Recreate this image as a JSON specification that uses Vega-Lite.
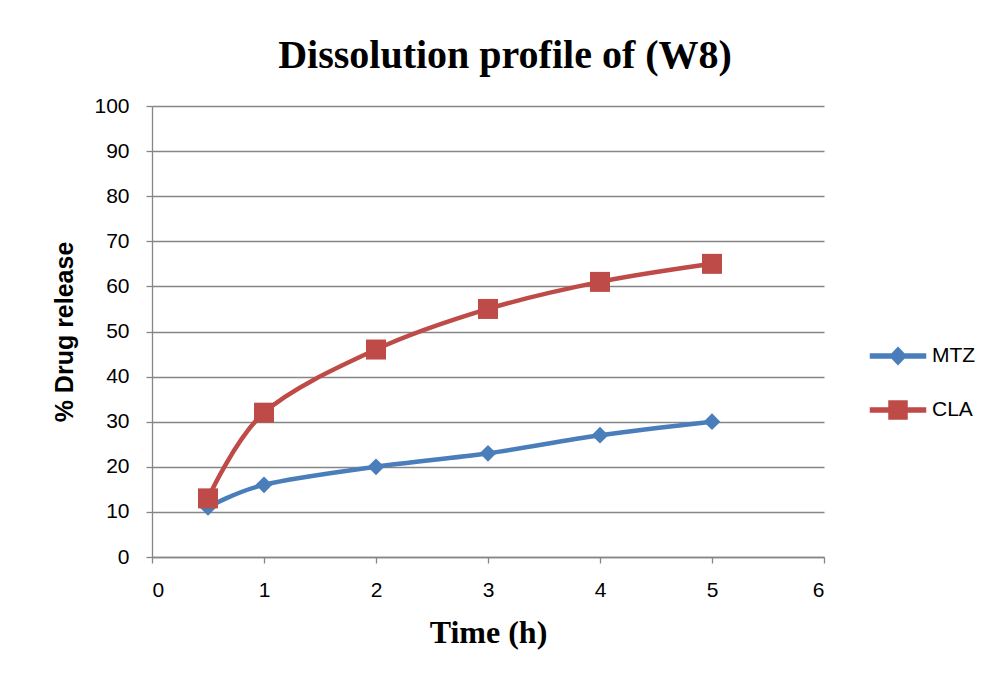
{
  "$schema": "https://vega.github.io/schema/vega-lite/v6.json",
  "width": 672,
  "height": 451,
  "autosize": {"type": "none"},
  "padding": {"left": 152, "top": 106, "right": 172, "bottom": 124},
  "background": "white",
  "title": {
    "text": "Dissolution profile of (W8)",
    "font": "Liberation Serif",
    "fontSize": 40,
    "fontWeight": "bold",
    "color": "black",
    "anchor": "middle",
    "frame": "group",
    "dx": 17,
    "offset": 19
  },
  "data": {
    "values": [
      {"time": 0.5, "release": 11, "drug": "MTZ"},
      {"time": 1, "release": 16, "drug": "MTZ"},
      {"time": 2, "release": 20, "drug": "MTZ"},
      {"time": 3, "release": 23, "drug": "MTZ"},
      {"time": 4, "release": 27, "drug": "MTZ"},
      {"time": 5, "release": 30, "drug": "MTZ"},
      {"time": 0.5, "release": 13, "drug": "CLA"},
      {"time": 1, "release": 32, "drug": "CLA"},
      {"time": 2, "release": 46, "drug": "CLA"},
      {"time": 3, "release": 55, "drug": "CLA"},
      {"time": 4, "release": 61, "drug": "CLA"},
      {"time": 5, "release": 65, "drug": "CLA"}
    ]
  },
  "config": {
    "view": {"stroke": null},
    "axis": {
      "labelFont": "Liberation Sans",
      "labelFontSize": 21,
      "labelColor": "black",
      "titleColor": "black",
      "titleFontWeight": "bold",
      "domainColor": "#868686",
      "tickColor": "#868686",
      "gridColor": "#868686",
      "gridOpacity": 1,
      "tickSize": 6,
      "domainWidth": 1.3,
      "tickWidth": 1.3,
      "gridWidth": 1.3
    }
  },
  "encoding": {
    "x": {
      "field": "time",
      "type": "quantitative",
      "scale": {"domain": [0, 6], "nice": false},
      "axis": {
        "values": [0, 1, 2, 3, 4, 5, 6],
        "grid": false,
        "title": "Time (h)",
        "titleFont": "Liberation Serif",
        "titleFontSize": 32,
        "titlePadding": 17,
        "labelPadding": 16
      }
    },
    "y": {
      "field": "release",
      "type": "quantitative",
      "scale": {"domain": [0, 100], "nice": false},
      "axis": {
        "values": [0, 10, 20, 30, 40, 50, 60, 70, 80, 90, 100],
        "grid": true,
        "title": "% Drug release",
        "titleFont": "Liberation Sans",
        "titleFontSize": 25,
        "titlePadding": 16,
        "labelPadding": 17
      }
    }
  },
  "layer": [
    {
      "mark": {"type": "line", "interpolate": "cardinal", "strokeWidth": 4.5, "strokeCap": "round"},
      "encoding": {
        "color": {
          "field": "drug",
          "type": "nominal",
          "scale": {"domain": ["MTZ", "CLA"], "range": ["#4A7EBB", "#BE4B48"]},
          "legend": {
            "title": null,
            "orient": "none",
            "legendX": 735,
            "legendY": 239,
            "symbolSize": 400,
            "labelOffset": 23,
            "rowPadding": 30,
            "labelFont": "Liberation Sans",
            "labelFontSize": 21,
            "labelColor": "black",
            "encode": {
              "symbols": {
                "update": {
                  "shape": {"signal": "datum.value === 'MTZ' ? 'M-2.75,-0.2H2.75V0.2H-2.75ZM0,-0.85L0.8,0L0,0.85L-0.8,0Z' : 'M-2.75,-0.2H2.75V0.2H-2.75ZM-0.9,-0.9H0.9V0.9H-0.9Z'"},
                  "fill": {"signal": "datum.value === 'MTZ' ? '#4A7EBB' : '#BE4B48'"},
                  "stroke": {"value": "transparent"},
                  "opacity": {"value": 1},
                  "fillOpacity": {"value": 1}
                }
              }
            }
          }
        }
      }
    },
    {
      "transform": [{"filter": "datum.drug === 'MTZ'"}],
      "mark": {"type": "point", "filled": true, "opacity": 1, "shape": "diamond", "size": 280, "color": "#4A7EBB"}
    },
    {
      "transform": [{"filter": "datum.drug === 'CLA'"}],
      "mark": {"type": "point", "filled": true, "opacity": 1, "shape": "square", "size": 400, "color": "#BE4B48"}
    }
  ]
}
